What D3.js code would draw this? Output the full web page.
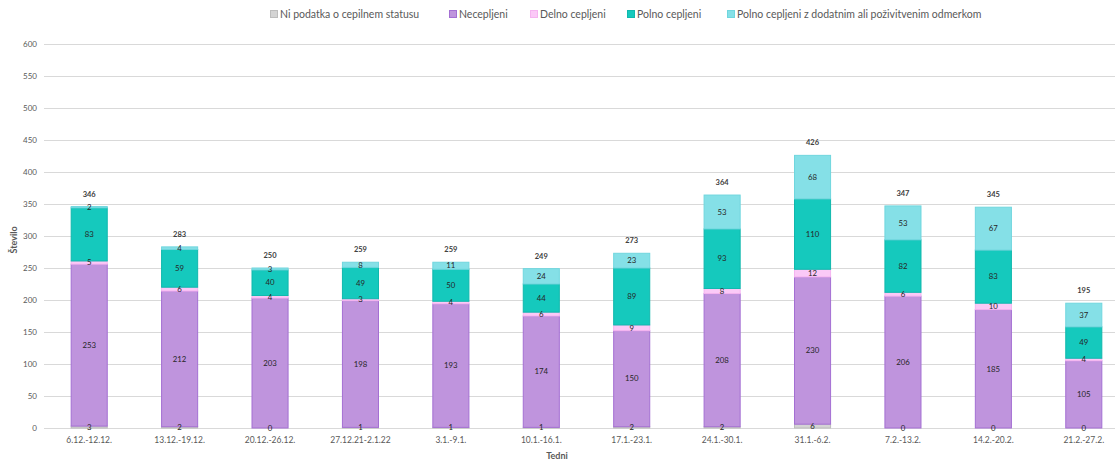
<!DOCTYPE html>
<html>
<head>
<meta charset="utf-8">
<script src="https://cdn.jsdelivr.net/npm/d3@7"></script>
<style>
  body { margin: 0; background: #fff; }
  svg { font-family: Lato, "Open Sans", sans-serif; }
</style>
</head>
<body>
<svg id="chart" width="1115" height="461"></svg>
<script>
// weeks (x axis)
var categories = ["6.12.-12.12.", "13.12.-19.12.", "20.12.-26.12.", "27.12.21-2.1.22", "3.1.-9.1.",
    "10.1.-16.1.", "17.1.-23.1.", "24.1.-30.1.", "31.1.-6.2.", "7.2.-13.2.", "14.2.-20.2.", "21.2.-27.2."];

// series, bottom to top of each stack
var niPodatka  = [3, 2, 0, 1, 1, 1, 2, 2, 6, 0, 0, 0];
var necepljeni = [253, 212, 203, 198, 193, 174, 150, 208, 230, 206, 185, 105];
var delno      = [5, 6, 4, 3, 4, 6, 9, 8, 12, 6, 10, 4];
var polno      = [83, 59, 40, 49, 50, 44, 89, 93, 110, 82, 83, 49];
var dodatni    = [2, 4, 3, 8, 11, 24, 23, 53, 68, 53, 67, 37];

var yTicks = [0, 50, 100, 150, 200, 250, 300, 350, 400, 450, 500, 550, 600];

var series = [
    {key: "ni", name: "Ni podatka o cepilnem statusu", values: niPodatka, fill: "#d4d4d4", stroke: "#bdbdbd"},
    {key: "nec", name: "Necepljeni", values: necepljeni, fill: "#bf94dd", stroke: "#a46fd3"},
    {key: "del", name: "Delno cepljeni", values: delno, fill: "#fbc9f7", stroke: "#f5b4f0"},
    {key: "pol", name: "Polno cepljeni", values: polno, fill: "#15c9bd", stroke: "#10b8ad"},
    {key: "dod", name: "Polno cepljeni z dodatnim ali poživitvenim odmerkom", values: dodatni, fill: "#85e0e7", stroke: "#70d6de"}
];

var svg = d3.select("#chart");
var textColor = "#595959";

var x = d3.scaleBand()
    .domain(categories)
    .range([44, 1129])
    .paddingInner(0.59)
    .paddingOuter(0.295);

var y = d3.scaleLinear()
    .domain([0, 600])
    .range([428, 44]);

// grid + y tick labels
var grid = svg.append("g");
grid.selectAll("line").data(yTicks).enter().append("line")
    .attr("x1", 44)
    .attr("x2", 1115)
    .attr("y1", function (d) { return Math.round(y(d)) + 0.5; })
    .attr("y2", function (d) { return Math.round(y(d)) + 0.5; })
    .attr("stroke", "#d9d9d9")
    .attr("stroke-width", 1);

grid.selectAll("text").data(yTicks).enter().append("text")
    .attr("x", 37)
    .attr("y", function (d) { return y(d) + 3; })
    .attr("text-anchor", "end")
    .attr("font-size", 8)
    .attr("fill", textColor)
    .text(function (d) { return d; });

// stacked data
var rows = categories.map(function (c, i) {
    var r = {cat: c};
    series.forEach(function (s) { r[s.key] = s.values[i]; });
    return r;
});
var stack = d3.stack().keys(series.map(function (s) { return s.key; }));
var stacked = stack(rows);

var layers = svg.append("g").selectAll("g").data(stacked).enter().append("g")
    .attr("fill", function (d, i) { return series[i].fill; })
    .attr("stroke", function (d, i) { return series[i].stroke; });

layers.selectAll("rect").data(function (d) { return d; }).enter().append("rect")
    .attr("x", function (d) { return x(d.data.cat) + 0.5; })
    .attr("width", x.bandwidth() - 1)
    .attr("y", function (d) { return y(d[1]); })
    .attr("height", function (d) { return Math.max(0, y(d[0]) - y(d[1])); })
    .attr("stroke-width", 1);

// segment labels
var labels = svg.append("g").selectAll("g").data(stacked).enter().append("g");
labels.selectAll("text").data(function (d) { return d; }).enter().append("text")
    .attr("x", function (d) { return x(d.data.cat) + x.bandwidth() / 2; })
    .attr("y", function (d) { return (y(d[0]) + y(d[1])) / 2 + 2.7; })
    .attr("text-anchor", "middle")
    .attr("font-size", 7.8)
    .attr("fill", "#262626")
    .text(function (d) { return d[1] - d[0]; });

// totals above bars
svg.append("g").selectAll("text").data(rows).enter().append("text")
    .attr("x", function (d) { return x(d.cat) + x.bandwidth() / 2; })
    .attr("y", function (d) {
        var t = d3.sum(series, function (s) { return d[s.key]; });
        return y(t) - 10;
    })
    .attr("text-anchor", "middle")
    .attr("font-size", 7.5)
    .attr("font-weight", "bold")
    .attr("fill", "#404040")
    .text(function (d) { return d3.sum(series, function (s) { return d[s.key]; }); });

// x axis labels
svg.append("g").selectAll("text").data(categories).enter().append("text")
    .attr("x", function (d) { return x(d) + x.bandwidth() / 2; })
    .attr("y", 443)
    .attr("text-anchor", "middle")
    .attr("font-size", 8.5)
    .attr("fill", textColor)
    .text(function (d) { return d; });

// axis titles
svg.append("text")
    .attr("x", 557)
    .attr("y", 459)
    .attr("text-anchor", "middle")
    .attr("font-size", 9)
    .attr("font-weight", "bold")
    .attr("fill", textColor)
    .text("Tedni");

svg.append("text")
    .attr("transform", "translate(17,240) rotate(-90)")
    .attr("text-anchor", "middle")
    .attr("font-size", 9)
    .attr("font-weight", "bold")
    .attr("fill", textColor)
    .text("Število");

// legend
var legendX = [270, 449, 530, 627, 727];
var legend = svg.append("g").selectAll("g").data(series).enter().append("g")
    .attr("transform", function (d, i) { return "translate(" + legendX[i] + ",15)"; });
legend.append("rect")
    .attr("x", 0.5)
    .attr("y", -4.5)
    .attr("width", 7)
    .attr("height", 7)
    .attr("fill", function (d) { return d.fill; })
    .attr("stroke", function (d) { return d.stroke; });
legend.append("text")
    .attr("x", 10)
    .attr("y", 3)
    .attr("font-size", 10.5)
    .attr("fill", textColor)
    .text(function (d) { return d.name; });
</script>
</body>
</html>
